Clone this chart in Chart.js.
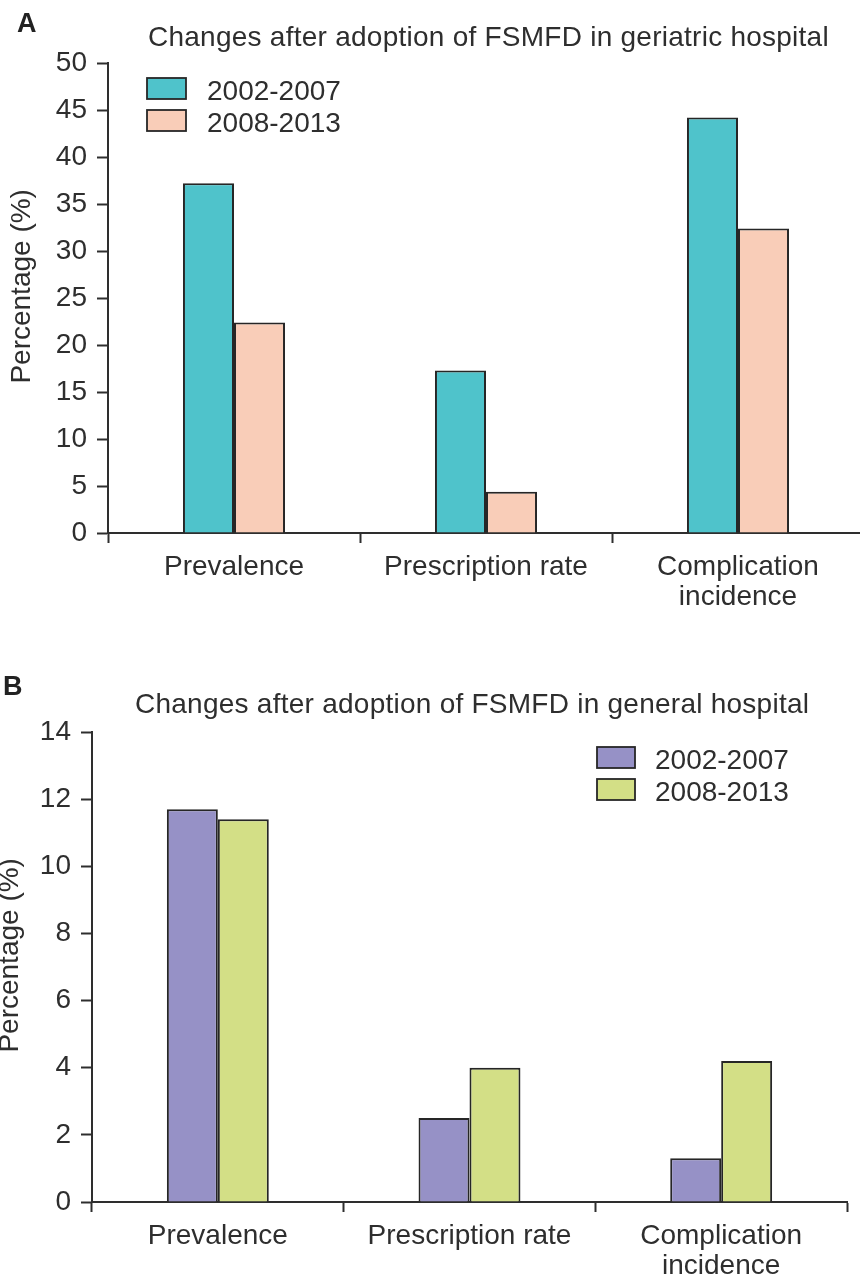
<!DOCTYPE html>
<html>
<head>
<meta charset="utf-8">
<script src="https://cdn.jsdelivr.net/npm/chart.js@4.4.1/dist/chart.umd.min.js"></script>
<style>
  html, body { margin: 0; padding: 0; background: #fff; overflow: hidden; width: 860px; height: 1280px; }
  body { position: relative; font-family: "Liberation Sans", Arial, sans-serif; color: #2e2e2e; }
  .panel { position: absolute; left: 0; width: 866px; height: 640px; }
  .letter { position: absolute; font-weight: bold; font-size: 27px; line-height: 28px; color: #222; }
  .title { position: absolute; font-size: 28px; line-height: 28px; white-space: nowrap; letter-spacing: 0.25px; color: #2e2e2e; }
</style>
</head>
<body>
<div class="panel" style="top:0"><canvas id="chartA" width="866" height="640"></canvas></div>
<div class="panel" style="top:640px"><canvas id="chartB" width="866" height="640"></canvas></div>
<div class="letter" style="left:17px; top:9px">A</div>
<div class="title" style="left:148px; top:23px">Changes after adoption of FSMFD in geriatric hospital</div>
<div class="letter" style="left:3px; top:672px">B</div>
<div class="title" style="left:135px; top:690px">Changes after adoption of FSMFD in general hospital</div>

<script>
// categories and series
const categories = ['Prevalence', 'Prescription rate', ['Complication', 'incidence']];
const periodLabels = ['2002-2007', '2008-2013'];

// geriatric hospital (%)
const geriatricEarly = [37.2, 17.3, 44.2];
const geriatricLate = [22.4, 4.4, 32.4];
const geriatricMax = 50;
const geriatricStep = 5;

// general hospital (%)
const generalEarly = [11.7, 2.5, 1.3];
const generalLate = [11.4, 4.0, 4.2];
const generalMax = 14;
const generalStep = 2;

const ink = '#2e2e2e';
const edge = '#262626';
Chart.defaults.font.family = '"Liberation Sans", Arial, sans-serif';
Chart.defaults.color = ink;

// legend drawn as boxes inside the plot area
const boxLegend = {
    id: 'boxLegend',
    afterDraw(chart, args, opts) {
        const ctx = chart.ctx;
        ctx.save();
        chart.data.datasets.forEach((ds, i) => {
            const y = opts.y + i * opts.rowGap;
            ctx.fillStyle = ds.backgroundColor;
            ctx.fillRect(opts.x, y, opts.boxW, opts.boxH);
            ctx.lineWidth = 1.8;
            ctx.strokeStyle = ds.borderColor;
            ctx.strokeRect(opts.x, y, opts.boxW, opts.boxH);
            ctx.fillStyle = ink;
            ctx.font = '28px "Liberation Sans", Arial, sans-serif';
            ctx.textBaseline = 'alphabetic';
            ctx.fillText(ds.label, opts.textX, y + opts.baseline);
        });
        ctx.restore();
    }
};

function makeChart(id, early, late, colors, max, step, geo) {
    const ctx = document.getElementById(id).getContext('2d');
    return new Chart(ctx, {
        type: 'bar',
        data: {
            labels: categories,
            datasets: [
                { label: periodLabels[0], data: early, backgroundColor: colors[0], borderColor: edge, borderWidth: 2 },
                { label: periodLabels[1], data: late, backgroundColor: colors[1], borderColor: edge, borderWidth: 2 }
            ]
        },
        options: {
            responsive: false,
            animation: false,
            layout: { padding: { left: 0, right: geo.right, top: geo.top, bottom: 0 } },
            datasets: { bar: { categoryPercentage: 0.405, barPercentage: 1.0 } },
            plugins: {
                legend: { display: false },
                tooltip: { enabled: false },
                boxLegend: geo.legend
            },
            scales: {
                x: {
                    grid: { offset: true, drawOnChartArea: false, drawTicks: true, tickLength: 10, tickColor: ink, tickWidth: 2 },
                    border: { display: true, color: ink, width: 2 },
                    ticks: { color: ink, font: { size: 28, lineHeight: 1.08 }, padding: 9, maxRotation: 0, autoSkip: false },
                    afterFit(s) { s.height = geo.xHeight; }
                },
                y: {
                    min: 0,
                    max: max,
                    grid: { drawOnChartArea: false, drawTicks: true, tickLength: 11, tickColor: ink, tickWidth: 2 },
                    border: { display: true, color: ink, width: 2 },
                    ticks: { stepSize: step, color: ink, font: { size: 28 }, padding: 10 },
                    title: { display: true, text: '   Percentage (%)', color: ink, font: { size: 28, lineHeight: 1 }, padding: { top: geo.titlePad, bottom: 0 } },
                    afterFit(s) { s.width = geo.yWidth; }
                }
            }
        },
        plugins: [boxLegend]
    });
}

makeChart('chartA', geriatricEarly, geriatricLate, ['#4fc3cb', '#f9cdb8'], geriatricMax, geriatricStep, {
    top: 63, right: 2, yWidth: 108, xHeight: 107, titlePad: 8,
    legend: { x: 147, y: 78, boxW: 39, boxH: 21, rowGap: 32, textX: 207, baseline: 22 }
});

makeChart('chartB', generalEarly, generalLate, ['#9691c6', '#d3df86'], generalMax, generalStep, {
    top: 92, right: 19, yWidth: 92, xHeight: 78, titlePad: -4,
    legend: { x: 597, y: 107, boxW: 38, boxH: 21, rowGap: 32, textX: 655, baseline: 22 }
});
</script>
</body>
</html>
